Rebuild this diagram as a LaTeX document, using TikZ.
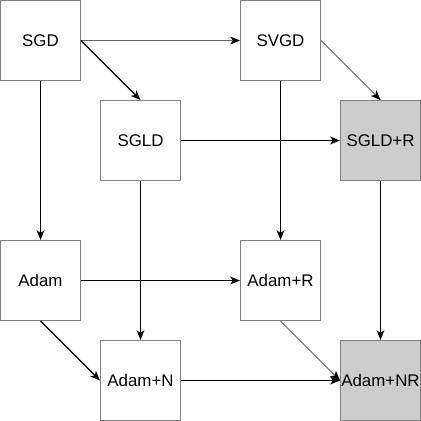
\documentclass[tikz,border=0pt]{standalone}
\usepackage{fontspec}
\setmainfont{Liberation Sans}
\usetikzlibrary{arrows.meta, positioning}

\begin{document}
\begin{tikzpicture}[x=0.025cm, y=-0.025cm,
                box/.style={draw=gray, line width=0.7pt, rectangle, minimum width=2cm, minimum height=2cm, inner sep=0pt, align=center, font=\fontsize{12}{14}\selectfont},
                arr/.style={-{Stealth[length=7pt, width=5.6pt, inset=2pt]}, line width=0.8pt},
                thin arr/.style={-{Stealth[length=7pt, width=5.6pt, inset=2pt, color=black]}, draw=gray!80!black, line width=0.55pt}]
                \useasboundingbox (0,0) rectangle (421,421);
                \node[box] (sgd) at (40.5,40.5) {SGD};
                \node[box] (svgd) at (280.5,40.5) {SVGD};
                \node[box] (sgld) at (140.5,140.5) {SGLD};
                \node[box, fill=black!20] (sgldr) at (380.5,140.5) {SGLD+R};
                \node[box] (adam) at (40.5,280.5) {Adam};
                \node[box] (adamr) at (280.5,280.5) {Adam+R};
                \node[box] (adamn) at (140.5,380.5) {Adam+N};
                \node[box, fill=black!20] (adamnr) at (380.5,380.5) {Adam+NR};

                \draw[thin arr] (sgd) -- (svgd);
                \draw[arr] (sgd.east) -- (sgld.north);
                \draw[arr] (sgd) -- (adam);
                \draw[thin arr] (svgd.east) -- (sgldr.north);
                \draw[arr] (svgd) -- (adamr);
                \draw[arr] (sgld) -- (sgldr);
                \draw[arr] (sgld) -- (adamn);
                \draw[arr] (sgldr) -- (adamnr);
                \draw[arr] (adam) -- (adamr);
                \draw[arr] (adam.south) -- (adamn.west);
                \draw[thin arr] (adamr.south) -- (adamnr.west);
                \draw[arr] (adamn) -- (adamnr);
            \end{tikzpicture}
\end{document}
